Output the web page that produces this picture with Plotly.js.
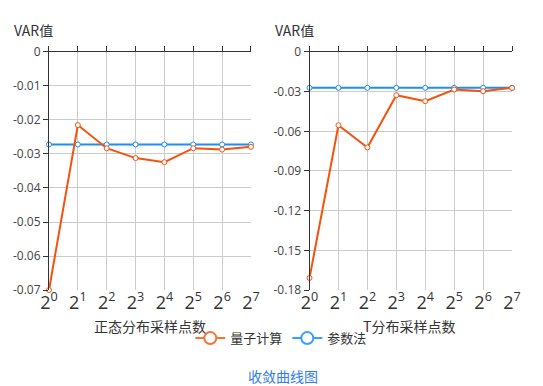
<!DOCTYPE html>
<html><head><meta charset="utf-8">
<script src="https://cdn.plot.ly/plotly-3.0.1.min.js"></script>
<style>html,body{margin:0;padding:0;background:#fff}#c{width:543px;height:386px}</style>
</head><body><div id="c"></div>
<script>
const xLabels = ['2<sup>0</sup>','2<sup>1</sup>','2<sup>2</sup>','2<sup>3</sup>','2<sup>4</sup>','2<sup>5</sup>','2<sup>6</sup>','2<sup>7</sup>'];
const xIdx = [0,1,2,3,4,5,6,7];
const normalQuantum = [-0.0700,-0.0215,-0.0283,-0.0312,-0.0324,-0.0283,-0.0287,-0.0279];
const normalParam   = [-0.0272,-0.0272,-0.0272,-0.0272,-0.0272,-0.0272,-0.0272,-0.0272];
const tQuantum = [-0.1709,-0.0554,-0.0722,-0.0327,-0.0372,-0.0284,-0.0296,-0.0271];
const tParam   = [-0.0271,-0.0271,-0.0271,-0.0271,-0.0271,-0.0271,-0.0271,-0.0271];
const leftYTicks = [0,-0.01,-0.02,-0.03,-0.04,-0.05,-0.06,-0.07];
const leftYText = ['0','-0.01','-0.02','-0.03','-0.04','-0.05','-0.06','-0.07'];
const rightYTicks = [0,-0.03,-0.06,-0.09,-0.12,-0.15,-0.18];
const rightYText = ['0','-0.03','-0.06','-0.09','-0.12','-0.15','-0.18'];
const seriesNames = ['量子计算','参数法'];

const ORANGE = '#f4520d', BLUE = '#1f8ef1';
const F = '"Noto Sans CJK SC", "Noto Sans", sans-serif';
const FX = '"Open Sans", "Noto Sans", sans-serif';

function line(x, y, color, xa, ya){
  return {x:x, y:y, xaxis:xa, yaxis:ya, type:'scatter', mode:'lines+markers', showlegend:false,
    cliponaxis:false, line:{color:color, width:2},
    marker:{symbol:'circle', size:5, color:'#fff', line:{color:color, width:1}}, hoverinfo:'skip'};
}
const traces = [
  line(xIdx, normalParam, BLUE, 'x', 'y'),
  line(xIdx, normalQuantum, ORANGE, 'x', 'y'),
  line(xIdx, tParam, BLUE, 'x2', 'y2'),
  line(xIdx, tQuantum, ORANGE, 'x2', 'y2'),
  {x:[], y:[], xaxis:'x3', yaxis:'y', type:'scatter', showlegend:false},
  {x:[], y:[], xaxis:'x4', yaxis:'y2', type:'scatter', showlegend:false},
  {x:[null], y:[null], type:'scatter', mode:'lines+markers', name:seriesNames[0],
    line:{color:'#f7743a', width:2}, marker:{size:12, color:'#fff', line:{color:'#f7743a', width:2}}},
  {x:[null], y:[null], type:'scatter', mode:'lines+markers', name:seriesNames[1],
    line:{color:'#3aa0f7', width:2}, marker:{size:12, color:'#fff', line:{color:'#3aa0f7', width:2}}}
];

const yDom = [0.2487, 0.8653];
function xa(dom, anchor){
  return {domain:dom, anchor:anchor, range:[0,7], tickvals:xIdx, ticktext:xLabels,
    showgrid:true, gridcolor:'#cccccc', gridwidth:1, zeroline:false, showline:false, ticks:'',
    tickfont:{size:18, color:'#333', family:FX}, fixedrange:true};
}
function topAx(dom, anchor, over){
  return {domain:dom, anchor:anchor, overlaying:over, side:'top', range:[0,7], tickvals:xIdx,
    showticklabels:false, showgrid:false, zeroline:false, showline:true, linecolor:'#333', linewidth:1,
    ticks:'outside', ticklen:5, tickcolor:'#333'};
}
function ya(dom, anchor, rng, tv, tt){
  return {domain:dom, anchor:anchor, range:rng, tickvals:tv, ticktext:tt,
    showgrid:true, gridcolor:'#cccccc', zeroline:false, showline:true, linecolor:'#333', linewidth:1,
    ticks:'outside', ticklen:5, tickcolor:'#333', tickfont:{size:12, color:'#444', family:FX}};
}
const L = [0.0902, 0.4622], R = [0.5700, 0.9430];
const layout = {
  width:543, height:386, margin:{l:0,r:0,t:0,b:0}, paper_bgcolor:'#fff', plot_bgcolor:'#fff',
  font:{family:F, color:'#333'},
  xaxis: xa(L, 'y'), yaxis: ya(yDom, 'x', [-0.07, 0], leftYTicks, leftYText),
  xaxis2: xa(R, 'y2'), yaxis2: ya(yDom, 'x2', [-0.18, 0], rightYTicks, rightYText),
  xaxis3: topAx(L, 'y', 'x'), xaxis4: topAx(R, 'y2', 'x2'),
  showlegend:true,
  legend:{orientation:'h', x:0.518, xanchor:'center', y:0.124, yanchor:'middle',
    font:{size:13, color:'#333', family:F}, itemwidth:30, tracegroupgap:0},
  annotations:[
    {text:'VAR值', xref:'paper', yref:'paper', x:12/543, y:1-30/386, xanchor:'left', yanchor:'middle', showarrow:false, font:{size:14, color:'#333'}},
    {text:'VAR值', xref:'paper', yref:'paper', x:273/543, y:1-30/386, xanchor:'left', yanchor:'middle', showarrow:false, font:{size:14, color:'#333'}},
    {text:'正态分布采样点数', xref:'paper', yref:'paper', x:150/543, y:1-326/386, xanchor:'center', yanchor:'middle', showarrow:false, font:{size:14, color:'#333'}},
    {text:'T分布采样点数', xref:'paper', yref:'paper', x:409/543, y:1-326/386, xanchor:'center', yanchor:'middle', showarrow:false, font:{size:14, color:'#333'}},
    {text:'收敛曲线图', xref:'paper', yref:'paper', x:283/543, y:1-376/386, xanchor:'center', yanchor:'middle', showarrow:false, font:{size:14, color:'#2f7cf0'}}
  ]
};
Plotly.newPlot('c', traces, layout, {displayModeBar:false, staticPlot:true});
</script></body></html>
